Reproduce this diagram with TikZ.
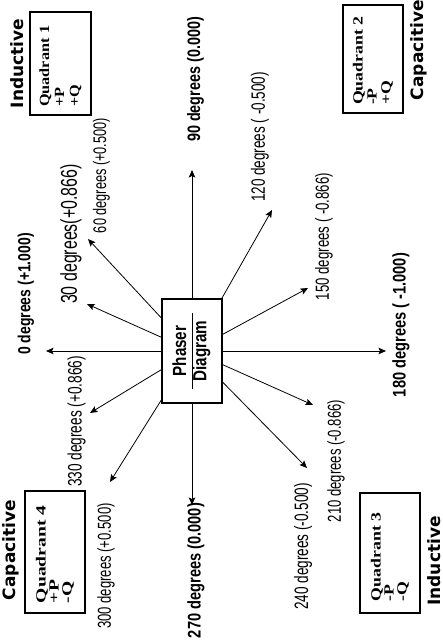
\documentclass[tikz,border=0pt]{standalone}
\usepackage{fontspec}
\usetikzlibrary{arrows.meta}
\newfontfamily\labfont[FakeStretch=0.7]{Liberation Sans}
\newfontfamily\blabfont[FakeStretch=0.8]{Liberation Sans}
\newfontfamily\qfont{Liberation Serif}
\newfontfamily\capfont{DejaVu Sans}
\setlength{\arrayrulewidth}{1pt}
\newcommand\lf[1]{\labfont\fontsize{#1}{#1}\selectfont}
\newcommand\blf[1]{\blabfont\bfseries\fontsize{#1}{#1}\selectfont}
\newcommand\qf[2]{\qfont\bfseries\addfontfeatures{FakeStretch=#1}\fontsize{14}{#2}\selectfont}
\tikzset{
  lab/.style={rotate=90, inner sep=0pt, font=\lf{#1}},
  blab/.style={rotate=90, inner sep=0pt, font=\blf{#1}},
  typelab/.style={rotate=90, inner sep=0pt, font=\capfont\bfseries\fontsize{17}{17}\selectfont},
  qbox/.style 2 args={draw, line width=1.3pt, rotate=90, align=left, inner ysep=0pt, font=\qf{#1}{#2}},
  cbox/.style={draw, line width=1.2pt, rotate=90, minimum width=104pt, minimum height=60pt, inner sep=0pt,
    font=\blabfont\bfseries\fontsize{19}{18}\selectfont},
  arr/.style={-{Stealth[length=7.5pt,width=6.5pt,inset=1.5pt]}, line width=0.8pt}
}
\begin{document}
\begin{tikzpicture}[x=1pt,y=-1pt]
\useasboundingbox (0,0) rectangle (443,644);
\fill[white] (0,0) rectangle (443,644);
% centre
\node[cbox] (c) at (192,351) {\begin{tabular}{@{\hspace{8pt}}c@{\hspace{8pt}}}Phaser\\\hline Diagram\end{tabular}};
% arrow tips
\coordinate (t0) at (46,351);
\coordinate (t30) at (87,304);
\coordinate (t60) at (88,239);
\coordinate (t90) at (192,170);
\coordinate (t120) at (272,210);
\coordinate (t150) at (308,288);
\coordinate (t180) at (386,351);
\coordinate (t210) at (313,405);
\coordinate (t240) at (307,468);
\coordinate (t270) at (192,505);
\coordinate (t300) at (110,482);
\coordinate (t330) at (90,413);
\foreach \t in {0,30,60,90,120,150,180,210,240,270,300,330}
  \draw[arr] (c) -- (t\t);
% labels
\node[blab=17.5] (l0) at (26,294) {0 degrees (+1.000)};
\node[lab=22.8] (l30) at (71,234) {30 degrees(+0.866)};
\node[lab=18.2] (l60) at (101.5,175.5) {60 degrees (+0.500)};
\node[blab=18] (l90) at (195.5,79.5) {90 degrees (0.000)};
\node[lab=19.3] (l120) at (260,137) {120 degrees ( -0.500)};
\node[lab=18.9] (l150) at (324,236.5) {150 degrees ( -0.866)};
\node[blab=18.3] (l180) at (401,325) {180 degrees ( -1.000)};
\node[lab=18.7] (l210) at (336,461) {210 degrees (-0.866)};
\node[lab=19.4] (l240) at (303,546.5) {240 degrees (-0.500)};
\node[blab=18.3] (l270) at (196,570.5) {270 degrees (0.000)};
\node[lab=18.7] (l300) at (106,566) {300 degrees (+0.500)};
\node[lab=19.5] (l330) at (76.5,421.5) {330 degrees (+0.866)};
% quadrant boxes
\node[qbox={1.16}{15}, text width=87pt, inner xsep=8pt, minimum height=61pt] (q1) at (60.5,63.5) {Quadrant 1\\+P\\+Q};
\node[qbox={1.27}{14}, text width=92pt, inner xsep=8pt, minimum height=60pt] (q2) at (373,59) {Quadrant 2\\-P\\+Q};
\node[qbox={1.27}{13}, text width=96pt, inner xsep=12pt, minimum height=60pt] (q3) at (390,553) {Quadrant 3\\-P\\-Q};
\node[qbox={1.40}{13}, text width=102pt, inner xsep=10pt, minimum height=60pt] (q4) at (55,552) {Quadrant 4\\+P\\-Q};
% type labels
\node[typelab] (i1) at (17,63.5) {Inductive};
\node[typelab] (c2) at (419,50) {Capacitive};
\node[typelab] (i3) at (434,561) {Inductive};
\node[typelab] (c4) at (11,550) {Capacitive};
\end{tikzpicture}
\end{document}
